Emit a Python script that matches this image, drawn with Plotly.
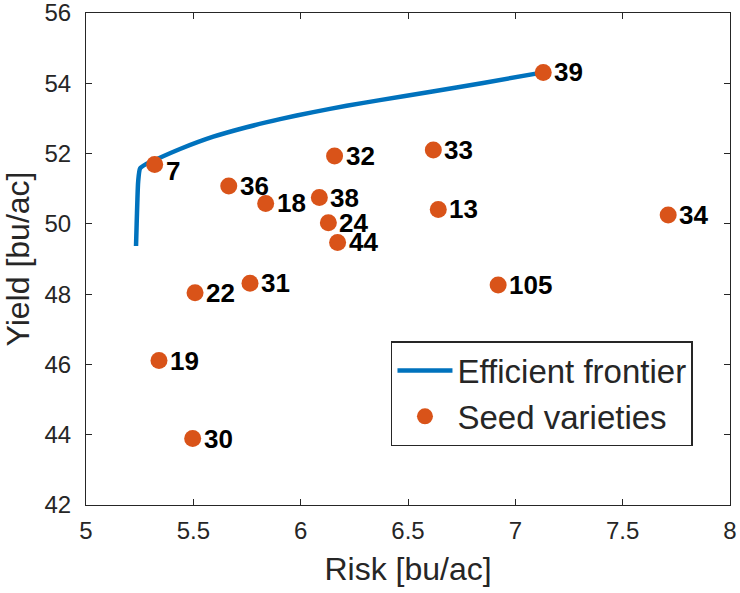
import plotly.graph_objects as go

# Efficient frontier (risk, yield)
frontier_risk = [5.233, 5.236, 5.239, 5.243, 5.252, 5.28, 5.329, 5.438, 5.593, 5.748, 5.904, 6.059, 6.214, 6.369, 6.60, 6.85, 7.13]
frontier_yield = [49.37, 50.0, 50.6, 51.2, 51.58, 51.70, 51.84, 52.13, 52.48, 52.75, 52.98, 53.18, 53.36, 53.52, 53.75, 54.01, 54.31]

# Seed varieties
variety_labels = ["7", "36", "18", "38", "32", "24", "44", "39", "33", "13", "34", "105", "22", "31", "19", "30"]
variety_risk = [5.32, 5.665, 5.837, 6.087, 6.158, 6.129, 6.172, 7.13, 6.618, 6.641, 7.712, 6.92, 5.508, 5.764, 5.34, 5.497]
variety_yield = [51.69, 51.08, 50.58, 50.75, 51.93, 50.03, 49.47, 54.31, 52.10, 50.41, 50.25, 48.26, 48.04, 48.31, 46.11, 43.89]

x_ticks = [5, 5.5, 6, 6.5, 7, 7.5, 8]
x_tick_text = ["5", "5.5", "6", "6.5", "7", "7.5", "8"]
y_ticks = [42, 44, 46, 48, 50, 52, 54, 56]

BLUE = "#0072BD"
ORANGE = "#D95319"
DARK = "#262626"
FONT = "Liberation Sans, Arial, Helvetica, sans-serif"

fig = go.Figure()
fig.add_trace(go.Scatter(
    x=frontier_risk, y=frontier_yield, mode="lines",
    line=dict(color=BLUE, width=4.5, shape="spline", smoothing=0.6),
    name="Efficient frontier",
))
fig.add_trace(go.Scatter(
    x=variety_risk, y=variety_yield, mode="markers",
    marker=dict(color=ORANGE, size=17, line=dict(width=0)),
    name="Seed varieties",
))

for lab, xr, yv in zip(variety_labels, variety_risk, variety_yield):
    fig.add_annotation(
        x=xr, y=yv, xref="x", yref="y", text=lab, showarrow=False,
        xanchor="left", yanchor="middle", xshift=9,
        yshift=-7 if lab == "7" else 0,
        font=dict(family=FONT, size=26, color="black", weight="bold"),
    )

axis_common = dict(
    showline=True, linecolor=DARK, linewidth=1, mirror="ticks",
    ticks="inside", ticklen=6, tickcolor=DARK, tickwidth=1,
    showgrid=False, zeroline=False, automargin=False,
    ticklabeloverflow="allow",
    tickfont=dict(family=FONT, size=24, color=DARK),
)

fig.update_xaxes(
    range=[5, 8], tickvals=x_ticks, ticktext=x_tick_text,
    title=dict(text="Risk [bu/ac]", font=dict(family=FONT, size=32, color=DARK), standoff=14),
    ticklabelstandoff=4,
    **axis_common,
)
fig.update_yaxes(
    range=[42, 56], tickvals=y_ticks,
    title=dict(text="Yield [bu/ac]", font=dict(family=FONT, size=32, color=DARK), standoff=18),
    ticklabelstandoff=9,
    **axis_common,
)

fig.update_layout(
    width=740, height=593,
    margin=dict(l=86, r=10, t=13, b=88),
    paper_bgcolor="white", plot_bgcolor="white",
    showlegend=True,
    legend=dict(
        x=0.9425, y=0.2266, xanchor="right", yanchor="middle",
        bgcolor="white", bordercolor=DARK, borderwidth=1.5,
        font=dict(family=FONT, size=33, color=DARK),
        itemwidth=55, tracegroupgap=0,
    ),
)

# remove the default page margin so the figure sits at the window's top-left corner
fig.write_html(
    "out.html",
    config={"displayModeBar": False},
    post_script="document.body.style.margin='0';",
)
